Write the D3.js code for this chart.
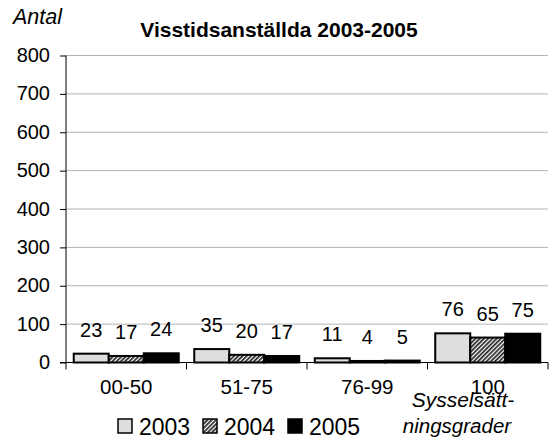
<!DOCTYPE html>
<html>
<head>
<meta charset="utf-8">
<script src="https://cdn.jsdelivr.net/npm/d3@7"></script>
<style>
  body { margin: 0; background: #fff; }
  text { font-family: "Liberation Sans", Arial, sans-serif; fill: #000; }
</style>
</head>
<body>
<svg id="chart" width="549" height="441"></svg>
<script>
// data
const categories = ["00-50", "51-75", "76-99", "100"];
const years = ["2003", "2004", "2005"];
const values2003 = [23, 35, 11, 76];
const values2004 = [17, 20, 4, 65];
const values2005 = [24, 17, 5, 75];
const yTicks = [0, 100, 200, 300, 400, 500, 600, 700, 800];

const series = [values2003, values2004, values2005];
const svg = d3.select("#chart");

const plotLeft = 66, plotRight = 548, plotTop = 55.5, plotBottom = 362.5;

const x0 = d3.scaleBand().domain(categories).range([plotLeft, plotRight])
  .paddingInner(0.1286).paddingOuter(0.0643);
const x1 = d3.scaleBand().domain(years).range([0, x0.bandwidth()]);
const y = d3.scaleLinear().domain([0, 800]).range([plotBottom, plotTop]);

// hatch pattern for 2004
const defs = svg.append("defs");
const hatch = defs.append("pattern")
  .attr("id", "hatch")
  .attr("patternUnits", "userSpaceOnUse")
  .attr("width", 3).attr("height", 3)
  .attr("patternTransform", "rotate(45)");
hatch.append("rect").attr("width", 3).attr("height", 3).attr("fill", "#fff");
hatch.append("rect").attr("width", 1.7).attr("height", 3).attr("fill", "#222");

const fills = ["#dedede", "url(#hatch)", "#000"];

// gridlines
svg.append("g")
  .selectAll("line")
  .data(yTicks.filter(d => d > 0))
  .enter().append("line")
  .attr("x1", plotLeft).attr("x2", plotRight)
  .attr("y1", d => y(d)).attr("y2", d => y(d))
  .attr("stroke", "#b4b4b4").attr("stroke-width", 1);

// y axis
const yAxis = svg.append("g")
  .attr("transform", `translate(${plotLeft},0)`)
  .call(d3.axisLeft(y).tickValues(yTicks).tickSize(6).tickPadding(10));
yAxis.select(".domain").remove();
yAxis.selectAll("line").attr("stroke", "#000");
yAxis.selectAll("text")
  .attr("font-size", "20px")
  .attr("font-family", "Liberation Sans, Arial, sans-serif")
  .attr("fill", "#000")
  .attr("dy", "0.3em");

svg.append("line")
  .attr("x1", plotLeft).attr("x2", plotLeft)
  .attr("y1", plotTop).attr("y2", plotBottom + 7)
  .attr("stroke", "#000");
svg.append("line")
  .attr("x1", plotLeft - 6).attr("x2", plotRight)
  .attr("y1", plotBottom).attr("y2", plotBottom)
  .attr("stroke", "#000");

// category boundary ticks
const bounds = categories.map(c => x0(c) - x0.step() * x0.paddingInner() / 2).slice(1).concat([plotRight]);
svg.append("g").selectAll("line")
  .data(bounds)
  .enter().append("line")
  .attr("x1", d => d).attr("x2", d => d)
  .attr("y1", plotBottom).attr("y2", plotBottom + 7)
  .attr("stroke", "#000");

// category labels
svg.append("g").selectAll("text")
  .data(categories)
  .enter().append("text")
  .attr("x", d => x0(d) + x0.bandwidth() / 2)
  .attr("y", 394)
  .attr("text-anchor", "middle")
  .attr("font-size", "20.5px")
  .text(d => d);

// bars
const groups = svg.append("g").selectAll("g")
  .data(categories)
  .enter().append("g")
  .attr("transform", d => `translate(${x0(d)},0)`);

groups.selectAll("rect")
  .data((d, i) => years.map((yr, k) => ({ yr, k, v: series[k][i] })))
  .enter().append("rect")
  .attr("x", d => x1(d.yr))
  .attr("y", d => y(d.v))
  .attr("width", x1.bandwidth())
  .attr("height", d => plotBottom - y(d.v))
  .attr("fill", d => fills[d.k])
  .attr("stroke", "#000")
  .attr("stroke-width", 2);

groups.selectAll("text")
  .data((d, i) => years.map((yr, k) => ({ yr, k, v: series[k][i] })))
  .enter().append("text")
  .attr("x", d => x1(d.yr) + x1.bandwidth() / 2)
  .attr("y", d => y(d.v) - 17)
  .attr("text-anchor", "middle")
  .attr("font-size", "20px")
  .text(d => d.v);

// title and axis titles
svg.append("text")
  .attr("x", 279).attr("y", 37)
  .attr("text-anchor", "middle")
  .attr("font-size", "21px")
  .attr("font-weight", "bold")
  .text("Visstidsanställda 2003-2005");

svg.append("text")
  .attr("x", 13).attr("y", 24)
  .attr("font-size", "21.5px")
  .attr("font-style", "italic")
  .text("Antal");

svg.append("text")
  .attr("x", 463).attr("y", 407)
  .attr("text-anchor", "middle")
  .attr("font-size", "21px")
  .attr("font-style", "italic")
  .text("Sysselsätt-");
svg.append("text")
  .attr("x", 457).attr("y", 433)
  .attr("text-anchor", "middle")
  .attr("font-size", "20.5px")
  .attr("font-style", "italic")
  .text("ningsgrader");

// legend
const legend = svg.append("g").selectAll("g")
  .data(years)
  .enter().append("g")
  .attr("transform", (d, i) => `translate(${118 + i * 85},419)`);
legend.append("rect")
  .attr("width", 14).attr("height", 14)
  .attr("fill", (d, i) => fills[i])
  .attr("stroke", "#000").attr("stroke-width", 1.5);
legend.append("text")
  .attr("x", 21).attr("y", 16)
  .attr("font-size", "23px")
  .text(d => d);
</script>
</body>
</html>
